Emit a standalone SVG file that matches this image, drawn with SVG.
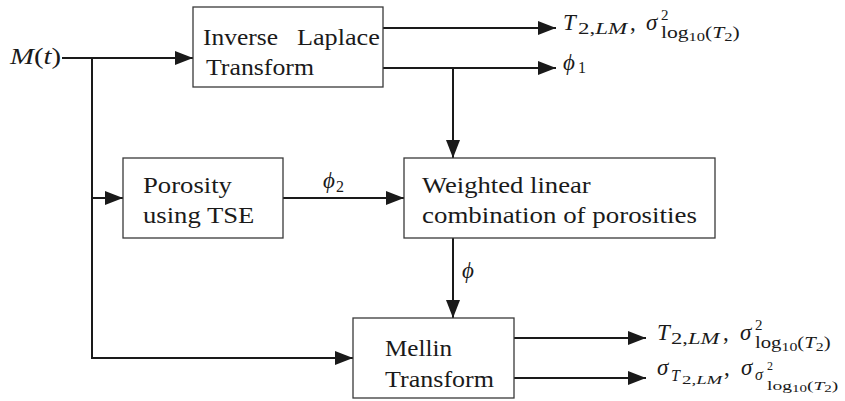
<svg xmlns="http://www.w3.org/2000/svg" width="845" height="401" viewBox="0 0 845 401">
<style>
.box{fill:#fff;stroke:#3a3a3a;stroke-width:1.3}
.c{fill:none;stroke:#1a1a1a;stroke-width:2}
</style>
<defs>
<marker id="ah" markerUnits="userSpaceOnUse" markerWidth="18" markerHeight="14" refX="18" refY="7" orient="auto">
<path d="M0,0 L18,7 L0,14 z" fill="#1a1a1a"/>
</marker>
</defs>
<g id="connectors">
<line class="c" x1="62" y1="58" x2="193" y2="58" marker-end="url(#ah)"/>
<path class="c" d="M92,58 V358 H353" marker-end="url(#ah)"/>
<line class="c" x1="92" y1="198" x2="123" y2="198" marker-end="url(#ah)"/>
<line class="c" x1="383" y1="28" x2="556" y2="28" marker-end="url(#ah)"/>
<line class="c" x1="383" y1="68" x2="556" y2="68" marker-end="url(#ah)"/>
<line class="c" x1="453" y1="68" x2="453" y2="158" marker-end="url(#ah)"/>
<line class="c" x1="283" y1="198" x2="404" y2="198" marker-end="url(#ah)"/>
<line class="c" x1="453" y1="238" x2="453" y2="318" marker-end="url(#ah)"/>
<line class="c" x1="514" y1="338" x2="646" y2="338" marker-end="url(#ah)"/>
<line class="c" x1="514" y1="378" x2="646" y2="378" marker-end="url(#ah)"/>
</g>
<g id="laplace">
<rect class="box" x="193" y="7" width="190" height="80"/>
<text font-family="Times New Roman, Liberation Serif, serif" font-size="24" fill="#1a1a1a" transform="translate(203 45) scale(1.062 1)">Inverse</text>
<text font-family="Times New Roman, Liberation Serif, serif" font-size="24" fill="#1a1a1a" transform="translate(297 45) scale(1.092 1)">Laplace</text>
<text font-family="Times New Roman, Liberation Serif, serif" font-size="24" fill="#1a1a1a" transform="translate(206 75) scale(1.076 1)">Transform</text>
</g>
<g id="porosity">
<rect class="box" x="123" y="158" width="160" height="80"/>
<text font-family="Times New Roman, Liberation Serif, serif" font-size="24" fill="#1a1a1a" transform="translate(143 193) scale(1.112 1)">Porosity</text>
<text font-family="Times New Roman, Liberation Serif, serif" font-size="24" fill="#1a1a1a" transform="translate(143 223) scale(1.112 1)">using TSE</text>
</g>
<g id="weighted">
<rect class="box" x="404" y="158" width="311" height="80"/>
<text font-family="Times New Roman, Liberation Serif, serif" font-size="24" fill="#1a1a1a" transform="translate(422 193) scale(1.11 1)">Weighted linear</text>
<text font-family="Times New Roman, Liberation Serif, serif" font-size="24" fill="#1a1a1a" transform="translate(422 223) scale(1.121 1)">combination of porosities</text>
</g>
<g id="mellin">
<rect class="box" x="353" y="318" width="161" height="80"/>
<text font-family="Times New Roman, Liberation Serif, serif" font-size="24" fill="#1a1a1a" transform="translate(385 356) scale(1.047 1)">Mellin</text>
<text font-family="Times New Roman, Liberation Serif, serif" font-size="24" fill="#1a1a1a" transform="translate(385 387) scale(1.086 1)">Transform</text>
</g>
<g id="input">
<text font-family="Times New Roman, Liberation Serif, serif" font-size="24" fill="#1a1a1a" transform="translate(10 64) scale(1.2 1)"><tspan font-style="italic">M</tspan>(<tspan font-style="italic">t</tspan>)</text>
</g>
<g id="labels">
<text font-family="'Liberation Serif', serif" font-size="23" font-style="italic" fill="#1a1a1a" x="563" y="30">T</text>
<text font-family="Times New Roman, Liberation Serif, serif" font-size="17" fill="#1a1a1a" transform="translate(578 34) scale(1.35 1)">2,<tspan font-style="italic">LM</tspan></text>
<text font-family="Times New Roman, Liberation Serif, serif" font-size="23" fill="#1a1a1a" x="630" y="30">,</text>
<text font-family="'Liberation Serif', serif" font-size="23" font-style="italic" fill="#1a1a1a" x="646" y="30">σ</text>
<text font-family="Times New Roman, Liberation Serif, serif" font-size="15" fill="#1a1a1a" x="661" y="20">2</text>
<text font-family="Times New Roman, Liberation Serif, serif" font-size="17" fill="#1a1a1a" transform="translate(661 38) scale(1.27 1)">log<tspan font-size="13" dy="3">10</tspan><tspan dy="-3">(</tspan><tspan font-style="italic">T</tspan><tspan font-size="13" dy="3">2</tspan><tspan dy="-3">)</tspan></text>

<text font-family="'Liberation Serif', serif" font-size="23" font-style="italic" fill="#1a1a1a" x="563" y="70">ϕ</text>
<text font-family="Times New Roman, Liberation Serif, serif" font-size="16" fill="#1a1a1a" x="578" y="73">1</text>

<text font-family="'Liberation Serif', serif" font-size="23" font-style="italic" fill="#1a1a1a" x="323" y="188">ϕ</text>
<text font-family="Times New Roman, Liberation Serif, serif" font-size="16" fill="#1a1a1a" x="336" y="192">2</text>

<text font-family="'Liberation Serif', serif" font-size="23" font-style="italic" fill="#1a1a1a" x="462" y="278">ϕ</text>

<text font-family="'Liberation Serif', serif" font-size="23" font-style="italic" fill="#1a1a1a" x="657" y="340">T</text>
<text font-family="Times New Roman, Liberation Serif, serif" font-size="17" fill="#1a1a1a" transform="translate(671 344) scale(1.33 1)">2,<tspan font-style="italic">LM</tspan></text>
<text font-family="Times New Roman, Liberation Serif, serif" font-size="23" fill="#1a1a1a" x="723" y="340">,</text>
<text font-family="'Liberation Serif', serif" font-size="23" font-style="italic" fill="#1a1a1a" x="740" y="340">σ</text>
<text font-family="Times New Roman, Liberation Serif, serif" font-size="15" fill="#1a1a1a" x="755" y="330">2</text>
<text font-family="Times New Roman, Liberation Serif, serif" font-size="17" fill="#1a1a1a" transform="translate(755 348) scale(1.22 1)">log<tspan font-size="13" dy="3">10</tspan><tspan dy="-3">(</tspan><tspan font-style="italic">T</tspan><tspan font-size="13" dy="3">2</tspan><tspan dy="-3">)</tspan></text>

<text font-family="'Liberation Serif', serif" font-size="23" font-style="italic" fill="#1a1a1a" x="657" y="375">σ</text>
<text font-family="'Liberation Serif', serif" font-size="16" font-style="italic" fill="#1a1a1a" x="671" y="381">T</text>
<text font-family="Times New Roman, Liberation Serif, serif" font-size="13" fill="#1a1a1a" transform="translate(682 384) scale(1.45 1)">2,<tspan font-style="italic">LM</tspan></text>
<text font-family="Times New Roman, Liberation Serif, serif" font-size="23" fill="#1a1a1a" x="724" y="375">,</text>
<text font-family="'Liberation Serif', serif" font-size="23" font-style="italic" fill="#1a1a1a" x="741" y="375">σ</text>
<text font-family="'Liberation Serif', serif" font-size="16" font-style="italic" fill="#1a1a1a" x="755" y="380">σ</text>
<text font-family="Times New Roman, Liberation Serif, serif" font-size="12" fill="#1a1a1a" x="767" y="370">2</text>
<text font-family="Times New Roman, Liberation Serif, serif" font-size="13" fill="#1a1a1a" transform="translate(767 390) scale(1.5 1)">log<tspan font-size="10" dy="2">10</tspan><tspan dy="-2">(</tspan><tspan font-style="italic">T</tspan><tspan font-size="10" dy="2">2</tspan><tspan dy="-2">)</tspan></text>
</g>
</svg>
